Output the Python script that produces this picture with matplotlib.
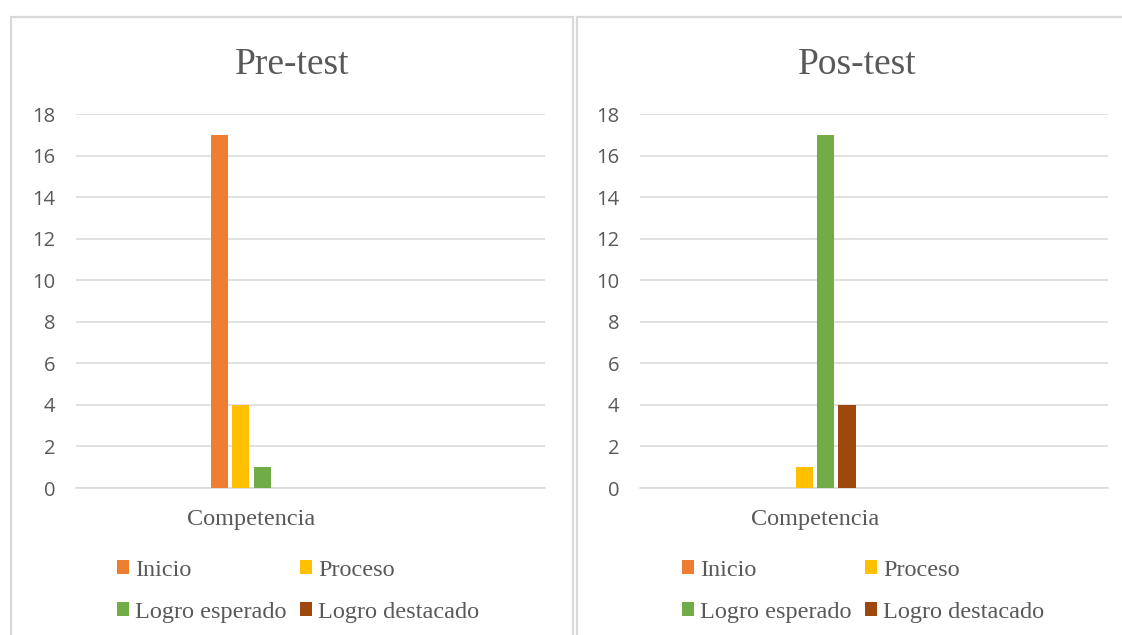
import numpy as np
import matplotlib
matplotlib.use("Agg")
import matplotlib.pyplot as plt
from matplotlib.patches import Rectangle, Patch

# ============================================================
# DATA
# ============================================================
categories = ["Competencia"]
series = ["Inicio", "Proceso", "Logro esperado", "Logro destacado"]
pre_test = [17, 4, 1, 0]
pos_test = [0, 1, 17, 4]
titles = ["Pre-test", "Pos-test"]
yticks = [0, 2, 4, 6, 8, 10, 12, 14, 16, 18]

colors = ["#ED7D31", "#FFC000", "#70AD47", "#9E480E"]
text_gray = "#595959"
grid_gray = "#D9D9D9"
serif = "Liberation Serif"
sans = "Open Sans"

W, H = 1122, 635
fig = plt.figure(figsize=(W / 100, H / 100), dpi=100)
fig.patch.set_facecolor("white")

# chart frames (Excel chart areas)
fig.add_artist(Rectangle((11 / W, -0.05), (573 - 11) / W, 1 - 17 / H + 0.05,
                         transform=fig.transFigure, fill=False,
                         edgecolor=grid_gray, linewidth=1.6))
fig.add_artist(Rectangle((577 / W, -0.05), 0.6, 1 - 17 / H + 0.05,
                         transform=fig.transFigure, fill=False,
                         edgecolor=grid_gray, linewidth=1.6))

panels = [
    (pre_test, titles[0], 76, 469, 292, 117),
    (pos_test, titles[1], 640, 468, 857, 682),
]

step = 1.0
bar_w = 0.8
ax_bottom, ax_top = 488, 114

for values, title, left_px, width_px, title_x, leg_x in panels:
    ax = fig.add_axes([left_px / W, 1 - ax_bottom / H,
                       width_px / W, (ax_bottom - ax_top) / H])
    n = len(series)
    span = width_px / 21.3
    for i, (name, v) in enumerate(zip(series, values)):
        ax.bar((i - (n - 1) / 2) * step, v, width=bar_w, color=colors[i],
               label=name, zorder=3)
    ax.set_xlim(-0.374 * span, 0.626 * span)
    ax.set_ylim(0, 18)
    ax.set_yticks(yticks)
    ax.set_xticks([0])
    ax.set_xticklabels(categories, fontfamily=serif, fontsize=17.5,
                       color=text_gray)
    for lbl in ax.get_yticklabels():
        lbl.set_fontfamily(sans)
        lbl.set_fontsize(14.5)
        lbl.set_color(text_gray)
    ax.tick_params(axis="both", length=0)
    ax.tick_params(axis="y", pad=15)
    ax.tick_params(axis="x", pad=15)
    ax.grid(axis="y", color=grid_gray, linewidth=1.1, zorder=0)
    for s in ["left", "right", "top"]:
        ax.spines[s].set_visible(False)
    ax.spines["bottom"].set_color(grid_gray)
    ax.spines["bottom"].set_linewidth(1.1)

    fig.text(title_x / W, 1 - 74 / H, title, ha="center", va="baseline",
             fontfamily=serif, fontsize=27, color=text_gray)

    # legend fills column-wise; reorder so rows read Inicio/Proceso, Logro...
    order = [0, 2, 1, 3]
    handles = [Patch(facecolor=colors[k], edgecolor="none") for k in order]
    labels = [series[k] for k in order]
    leg = fig.legend(handles, labels, loc="upper left",
                     bbox_to_anchor=(leg_x / W, 1 - 560 / H),
                     ncol=2, frameon=False, borderpad=0, borderaxespad=0,
                     handlelength=0.5, handleheight=0.5, handletextpad=0.25,
                     columnspacing=0.55, labelspacing=0.85,
                     prop={"family": serif, "size": 17.5})
    for t in leg.get_texts():
        t.set_color(text_gray)

fig.savefig("out.png", dpi=100, facecolor="white")
